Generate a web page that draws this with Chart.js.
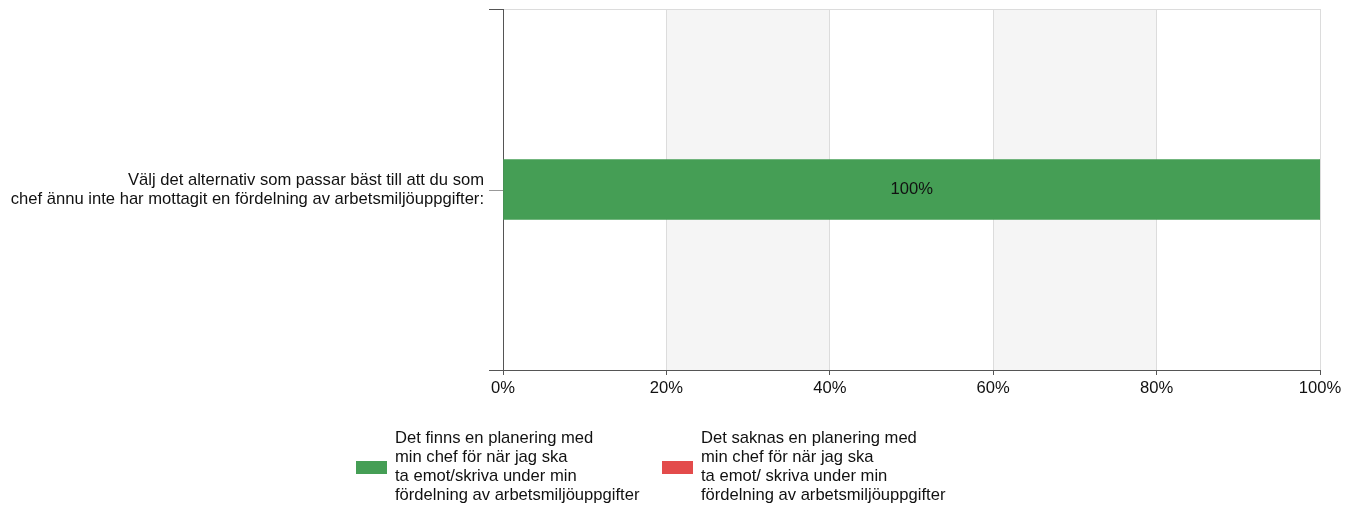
<!DOCTYPE html>
<html lang="sv">
<head>
    <meta charset="UTF-8">
    <title>Fördelning av arbetsmiljöuppgifter</title>
    <style>
        body {
            margin: 0;
            padding: 0;
            background-color: white;
        }
        .wrap {
            width: 1356px;
            height: 509px;
        }
    </style>
</head>
<body>
    <div class="wrap">
        <canvas id="chart"></canvas>
    </div>

    <script src="https://cdn.jsdelivr.net/npm/chart.js"></script>
    <script>
        // Data
        const categories = [
            ['Välj det alternativ som passar bäst till att du som',
             'chef ännu inte har mottagit en fördelning av arbetsmiljöuppgifter:']
        ];
        const seriesLabels = [
            ['Det finns en planering med', 'min chef för när jag ska', 'ta emot/skriva under min', 'fördelning av arbetsmiljöuppgifter'],
            ['Det saknas en planering med', 'min chef för när jag ska', 'ta emot/ skriva under min', 'fördelning av arbetsmiljöuppgifter']
        ];
        const finnsValues = [100];
        const saknasValues = [0];
        const xTicks = [0, 20, 40, 60, 80, 100];

        const colors = ['#459e55', '#e34b4b'];
        const FONT = 'Arial, "Liberation Sans", sans-serif';
        const FSIZE = 16.6;

        // Alternating grey bands behind the bars
        const bandsPlugin = {
            id: 'bands',
            beforeDraw(chart) {
                const ctx = chart.ctx;
                const area = chart.chartArea;
                const x = chart.scales.x;
                ctx.save();
                ctx.fillStyle = '#f5f5f5';
                for (let i = 1; i < xTicks.length - 1; i += 2) {
                    const x0 = x.getPixelForValue(xTicks[i]);
                    const x1 = x.getPixelForValue(xTicks[i + 1]);
                    ctx.fillRect(x0, area.top, x1 - x0, area.bottom - area.top);
                }
                ctx.restore();
            }
        };

        // Value labels, the middle tick on the y axis and the legend
        const extrasPlugin = {
            id: 'extras',
            afterDraw(chart) {
                const ctx = chart.ctx;
                const y = chart.scales.y;
                ctx.save();

                // centre tick for the category
                ctx.strokeStyle = '#999';
                ctx.lineWidth = 1;
                categories.forEach((_, i) => {
                    const py = Math.round(y.getPixelForTick(i)) + 0.5;
                    ctx.beginPath();
                    ctx.moveTo(y.right - 14, py);
                    ctx.lineTo(y.right, py);
                    ctx.stroke();
                });

                // value labels
                ctx.font = FSIZE + 'px ' + FONT;
                ctx.fillStyle = '#111';
                ctx.textAlign = 'center';
                ctx.textBaseline = 'middle';
                chart.data.datasets.forEach((ds, di) => {
                    chart.getDatasetMeta(di).data.forEach((bar, i) => {
                        if (ds.data[i] > 0) {
                            ctx.fillText(ds.data[i] + '%', (bar.x + bar.base) / 2, bar.y);
                        }
                    });
                });

                // legend
                const startX = [356, 662];
                const lineH = 19;
                const midY = 467;
                ctx.textAlign = 'left';
                chart.data.datasets.forEach((ds, di) => {
                    const bx = startX[di];
                    ctx.fillStyle = ds.backgroundColor;
                    ctx.fillRect(bx, midY - 6, 31, 13);
                    ctx.fillStyle = '#111';
                    const lines = seriesLabels[di];
                    const top = midY - (lines.length * lineH) / 2 + lineH / 2;
                    lines.forEach((t, li) => ctx.fillText(t, bx + 39, top + li * lineH));
                });
                ctx.restore();
            }
        };

        new Chart(document.getElementById('chart'), {
            type: 'bar',
            data: {
                labels: categories,
                datasets: [
                    { label: seriesLabels[0].join(' '), data: finnsValues, backgroundColor: colors[0], barThickness: 60 },
                    { label: seriesLabels[1].join(' '), data: saknasValues, backgroundColor: colors[1], barThickness: 60 }
                ]
            },
            options: {
                indexAxis: 'y',
                responsive: true,
                maintainAspectRatio: false,
                animation: false,
                layout: { padding: { top: 9, right: 36, bottom: 109, left: 0 } },
                plugins: {
                    legend: { display: false },
                    tooltip: { enabled: false }
                },
                scales: {
                    x: {
                        stacked: true,
                        min: 0,
                        max: 100,
                        afterBuildTicks: (scale) => { scale.ticks = xTicks.map(v => ({ value: v })); },
                        afterFit: (scale) => { scale.height = 30; },
                        ticks: {
                            callback: (v) => v + '%',
                            color: '#111',
                            font: { family: FONT, size: FSIZE },
                            padding: 3,
                            maxRotation: 0
                        },
                        grid: { color: '#dcdcdc', tickColor: '#555', tickLength: 5 },
                        border: { color: '#555' }
                    },
                    y: {
                        stacked: true,
                        afterFit: (scale) => {
                            scale.width = 503;
                            scale.paddingTop = 0;
                            scale.paddingBottom = 0;
                        },
                        ticks: {
                            color: '#111',
                            font: { family: FONT, size: FSIZE, lineHeight: 1.15 },
                            padding: 5
                        },
                        grid: { color: '#dcdcdc', tickColor: '#555', tickLength: 14 },
                        border: { color: '#555' }
                    }
                }
            },
            plugins: [bandsPlugin, extrasPlugin]
        });
    </script>
</body>
</html>
